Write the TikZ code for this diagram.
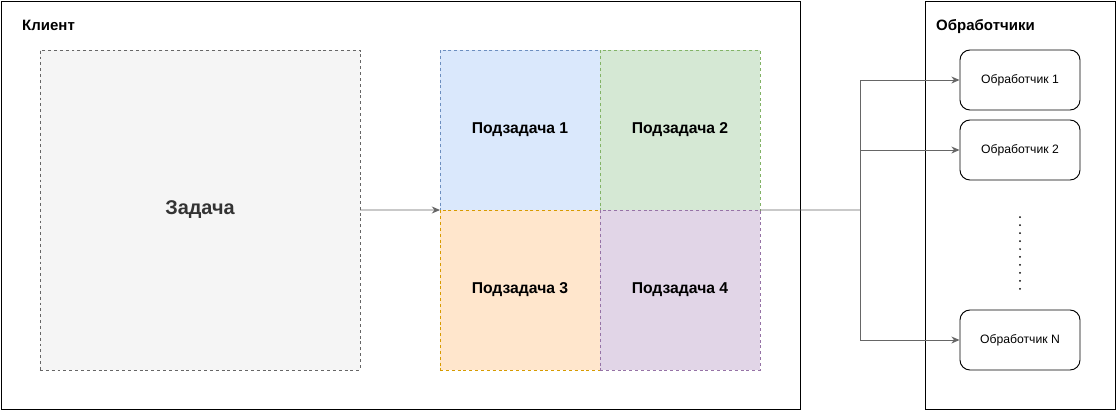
\documentclass[tikz,border=0pt]{standalone}
\usepackage{fontspec}
\setmainfont{Liberation Sans}
\usetikzlibrary{arrows.meta, positioning, calc}

\definecolor{taskfill}{HTML}{F5F5F5}
\definecolor{taskline}{HTML}{666666}
\definecolor{taskfont}{HTML}{333333}
\definecolor{bluefill}{HTML}{DAE8FC}
\definecolor{blueline}{HTML}{6C8EBF}
\definecolor{greenfill}{HTML}{D5E8D4}
\definecolor{greenline}{HTML}{82B366}
\definecolor{orangefill}{HTML}{FFE6CC}
\definecolor{orangeline}{HTML}{D79B00}
\definecolor{purplefill}{HTML}{E1D5E7}
\definecolor{purpleline}{HTML}{9673A6}
\definecolor{wire}{HTML}{666666}

\begin{document}
\begin{tikzpicture}[
        x=0.03cm, y=-0.03cm,
        frame/.style={rectangle, draw=black, line width=0.8pt, minimum height=12.24cm, inner sep=0pt},
        title/.style={anchor=base west, inner sep=0pt, font=\fontsize{12.8pt}{15pt}\selectfont\bfseries},
        task/.style={rectangle, draw=taskline, fill=taskfill, line width=0.6pt, dash pattern=on 2.5pt off 2.5pt, minimum width=9.6cm, minimum height=9.6cm, outer sep=0pt, text=taskfont, font=\fontsize{17pt}{20pt}\selectfont\bfseries},
        sub/.style={rectangle, line width=0.6pt, dash pattern=on 2.5pt off 2.5pt, minimum width=4.8cm, minimum height=4.8cm, outer sep=0pt, font=\fontsize{13.4pt}{16pt}\selectfont\bfseries},
        worker/.style={rectangle, rounded corners=0.3cm, draw=black, line width=0.8pt, minimum width=3.6cm, minimum height=1.8cm, font=\fontsize{10.4pt}{12pt}\selectfont},
        conn/.style={draw=wire, line width=0.8pt},
        flow/.style={-{Stealth[length=7pt, width=6pt]}, draw=wire, line width=0.8pt}
    ]
        \useasboundingbox (0,0) rectangle (1116,411);
        % containers
        \node[frame, minimum width=23.97cm] (client) at (400.5,205) {};
        \node[frame, minimum width=5.7cm] (pool) at (1020,205) {};
        \node[title] (clienttitle) at (22,30.5) {Клиент};
        \node[title] (pooltitle) at (936,30.5) {Обработчики};
        % task and its parts
        \node[task] (task) at (200,210) {Задача};
        \node[sub, draw=blueline, fill=bluefill] (sub1) at (520,130) {Подзадача 1};
        \node[sub, draw=greenline, fill=greenfill] (sub2) at (680,130) {Подзадача 2};
        \node[sub, draw=orangeline, fill=orangefill] (sub3) at (520,290) {Подзадача 3};
        \node[sub, draw=purpleline, fill=purplefill] (sub4) at (680,290) {Подзадача 4};
        % workers
        \node[worker] (work1) at (1020,80) {Обработчик 1};
        \node[worker] (work2) at (1020,150) {Обработчик 2};
        \node[worker] (workN) at (1020,340) {Обработчик N};
        \draw[line width=1.7pt, line cap=round, dash pattern=on 0pt off 6.8pt] ([yshift=-1.1cm]work2.south) -- ([yshift=0.62cm]workN.north);
        % links
        \coordinate (split) at (860,210);
        \draw[flow] (task.east) -- (sub1.south west);
        \draw[conn] (sub2.south east) -- (split);
        \draw[flow] (split) |- (work1.west);
        \draw[flow] (split) |- (work2.west);
        \draw[flow] (split) |- (workN.west);
    \end{tikzpicture}
\end{document}
